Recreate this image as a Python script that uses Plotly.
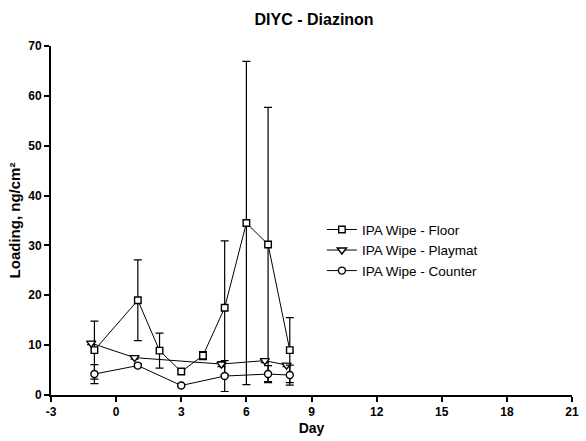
import plotly.graph_objects as go

# Data
floor_day = [-1, 1, 2, 3, 4, 5, 6, 7, 8]
floor_val = [9.0, 19.0, 8.9, 4.7, 7.9, 17.5, 34.5, 30.2, 9.0]
floor_err = [5.8, 8.1, 3.5, 0.4, 0.8, 13.4, 32.4, 27.5, 6.5]

playmat_day = [-1.15, 0.85, 4.85, 6.85, 7.85]
playmat_val = [10.4, 7.5, 6.2, 6.9, 6.0]
playmat_err = [0.3, 0.3, 0.5, 0.4, 0.3]

counter_day = [-1, 1, 3, 5, 7, 8]
counter_val = [4.2, 5.9, 1.9, 3.8, 4.2, 4.0]
counter_err = [1.9, 0.4, 0.3, 3.1, 1.7, 2.0]

x_ticks = [-3, 0, 3, 6, 9, 12, 15, 18, 21]
y_ticks = [0, 10, 20, 30, 40, 50, 60, 70]

FONT = "Arial, Liberation Sans, sans-serif"

def series(name, x, y, err, symbol, size):
    return go.Scatter(
        x=x, y=y, name=name, mode="lines+markers",
        line=dict(color="black", width=1),
        marker=dict(symbol=symbol, size=size, color="white",
                    line=dict(color="black", width=1.4)),
        error_y=dict(type="data", array=err, visible=True,
                     color="black", thickness=1.2, width=4),
    )

fig = go.Figure()
fig.add_trace(series("IPA Wipe - Floor", floor_day, floor_val, floor_err, "square", 6.5))
fig.add_trace(series("IPA Wipe - Playmat", playmat_day, playmat_val, playmat_err, "triangle-down", 8))
fig.add_trace(series("IPA Wipe - Counter", counter_day, counter_val, counter_err, "circle", 7))

fig.update_layout(
    width=586, height=441,
    margin=dict(l=51, r=7, t=46, b=44),
    paper_bgcolor="white", plot_bgcolor="white",
    font=dict(family=FONT, color="black"),
    title=dict(text="<b>DIYC - Diazinon</b>", x=0.536, xanchor="center",
               y=0.955, yanchor="middle", font=dict(size=16, family=FONT)),
    showlegend=True,
    legend=dict(x=0.52, y=0.518, xanchor="left", yanchor="top",
                font=dict(size=13.5, family=FONT), bgcolor="rgba(0,0,0,0)",
                itemwidth=30, tracegroupgap=0),
    xaxis=dict(range=[-3, 21], tickvals=x_ticks, ticktext=["<b>%d</b>" % v for v in x_ticks],
               showgrid=False, zeroline=False, showline=True, linecolor="black",
               linewidth=2, ticks="outside", ticklen=5, tickwidth=1.5, tickcolor="black",
               tickfont=dict(size=12, family=FONT),
               title=dict(text="<b>Day</b>", font=dict(size=14, family=FONT), standoff=5)),
    yaxis=dict(range=[0, 70], tickvals=y_ticks, ticktext=["<b>%d</b>" % v for v in y_ticks],
               showgrid=False, zeroline=False, showline=True, linecolor="black",
               linewidth=2, ticks="outside", ticklen=5, tickwidth=1.5, tickcolor="black",
               tickfont=dict(size=12, family=FONT),
               title=dict(text="<b>Loading, ng/cm²</b>", font=dict(size=15, family=FONT), standoff=4)),
)

fig.write_html("out.html")
